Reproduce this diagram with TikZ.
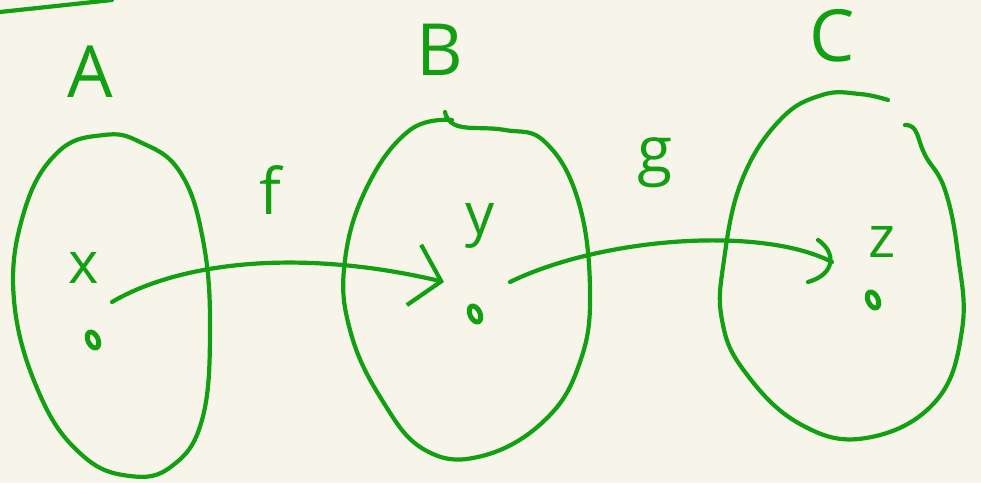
\documentclass[tikz,border=0pt]{standalone}
\usepackage{fontspec}
\setsansfont{Open Sans}
\usepackage{xcolor}
\usetikzlibrary{arrows.meta, positioning, shapes.geometric}
\definecolor{paper}{HTML}{F7F5EA}
\definecolor{ink}{HTML}{12A012}

\begin{document}
\begin{tikzpicture}[
    x=1pt, y=-1pt,
    pen/.style={draw=ink, line width=4.2pt, line cap=round, line join=round},
    setname/.style={text=ink, font=\sffamily\fontsize{72}{72}\selectfont, inner sep=0pt},
    elem/.style={text=ink, font=\sffamily\fontsize{58}{58}\selectfont, inner sep=0pt},
    fname/.style={text=ink, font=\sffamily\fontsize{64}{64}\selectfont, inner sep=0pt},
    point/.style={ellipse, draw=ink, line width=5pt, minimum width=10pt, minimum height=17pt, inner sep=0pt, rotate=25},
    arrow/.style={pen, -{Straight Barb[length=28pt, width=62pt, line width=4.2pt]}}
]
    \fill[paper] (0,0) rectangle (981,483);
    \useasboundingbox (0,0) rectangle (981,483);

    % stroke at the top edge
    \coordinate (t1) at (0,12);
    \coordinate (t2) at (112,0);
    \draw[pen] (t1) -- (t2);

    % Set A
    \draw[pen] plot[smooth cycle, tension=0.7] coordinates {(140,142) (180,172) (203,240) (210,330) (202,420) (172,466) (130,476) (82,455) (40,395) (14,300) (24,212) (58,152) (104,135)};
    \node[setname] (A) at (90,72) {A};

    % Set B
    \draw[pen] plot[smooth, tension=0.7] coordinates {(445,112) (458,126) (505,130) (545,142) (578,200) (590,290) (580,362) (545,420) (482,456) (425,450) (382,400) (350,330) (345,260) (368,185) (410,130) (452,120)};
    \node[setname] (B) at (440,50) {B};

    % Set C
    \draw[pen] plot[smooth, tension=0.7] coordinates {(888,100) (860,94) (822,95) (780,120) (742,180) (724,260) (722,320) (745,372) (800,424) (866,438) (935,402) (962,330) (958,255) (945,190) (925,155) (915,130) (905,125)};
    \node[setname] (C) at (832,36) {C};

    % elements
    \node[elem] (x) at (84,268) {x};
    \node[point] (px) at (93,340) {};
    \node[elem] (y) at (480,226) {y};
    \node[point] (py) at (475,314) {};
    \node[elem] (z) at (882,242) {z};
    \node[point] (pz) at (873,300) {};

    % maps
    \coordinate (fs) at (112,302);
    \coordinate (fe) at (444,282);
    \draw[arrow] (fs) .. controls (180,262) and (300,248) .. (fe);
    \node[fname] (f) at (270,190) {f};

    \coordinate (gs) at (510,282);
    \coordinate (ge) at (832,262);
    \draw[pen] (gs) .. controls (600,238) and (760,225) .. (ge);
    \draw[pen] ([shift={(-14,-22)}]ge) .. controls ([shift={(4,-10)}]ge) and ([shift={(4,12)}]ge) .. ([shift={(-24,20)}]ge);
    \node[fname] (g) at (655,163) {g};
\end{tikzpicture}
\end{document}
